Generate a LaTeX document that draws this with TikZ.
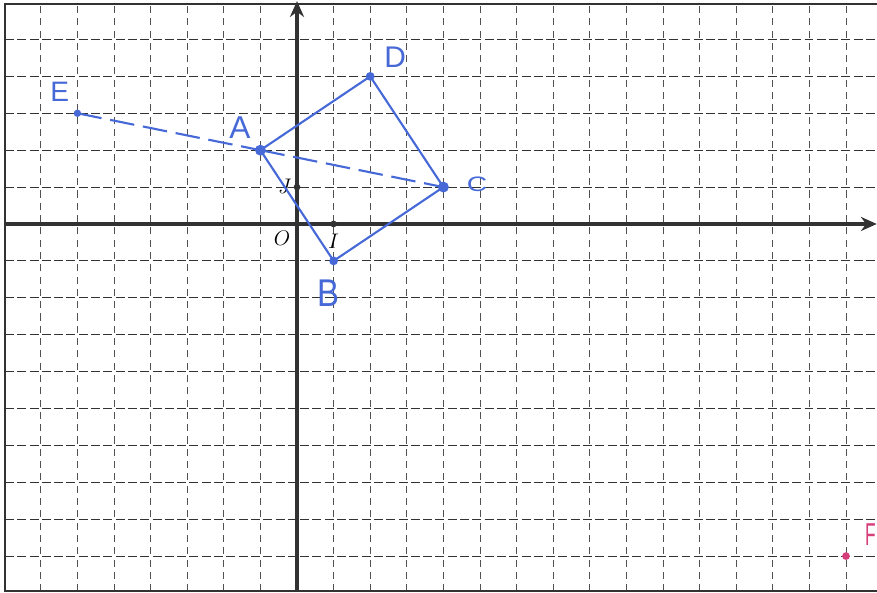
\documentclass[tikz,border=0pt]{standalone}
\usepackage{fontspec}
\newfontfamily\hand{Liberation Sans}
\usetikzlibrary{arrows.meta}
\definecolor{pen}{RGB}{70,105,215}
\definecolor{pink}{RGB}{214,62,122}
\definecolor{ink}{RGB}{50,50,50}
\tikzset{
  hgrid/.style={ink, line width=0.6pt, dash pattern=on 5.1pt off 1.9pt},
  vgrid/.style={ink!85, line width=0.5pt, dash pattern=on 4pt off 3pt},
  frame/.style={ink, line width=0.9pt},
  axis/.style={ink, line width=1.8pt, -{Stealth[length=9pt,width=8pt]}},
  tickdot/.style={circle, fill=ink, inner sep=0pt, minimum size=3.8pt},
  mlbl/.style={font=\fontsize{12.5}{14}\selectfont, text=black, inner sep=0pt},
  penline/.style={pen, line width=1.2pt},
  pendash/.style={pen, line width=1.2pt, dash pattern=on 14pt off 5pt},
  bigdot/.style={circle, fill=pen, inner sep=0pt, minimum size=6.2pt},
  smalldot/.style={circle, fill=pen, inner sep=0pt, minimum size=4.2pt},
  pinkdot/.style={circle, fill=pink, inner sep=0pt, minimum size=4.4pt},
  hlbl/.style={text=pen, inner sep=0pt},
}
\begin{document}
\begin{tikzpicture}[x=0.732cm,y=0.738cm]
\useasboundingbox (-8.115,-10.0) rectangle (15.847,6.07);
\clip (-8.115,-10.0) rectangle (15.847,6.07);
\fill[white] (-8.115,-10.0) rectangle (15.847,6.07);
% grid
\foreach \y in {-9,...,5} \draw[hgrid] (-7.98,\y) -- (16,\y);
\foreach \x in {-7,...,15} \draw[vgrid] (\x,-9.95) -- (\x,5.96);
% frame
\draw[frame] (16.5,5.96) -- (-7.98,5.96) -- (-7.98,-9.95) -- (16.5,-9.95);
% axes
\coordinate (xl) at (-7.98,0);
\coordinate (xr) at (15.84,0);
\coordinate (yb) at (0,-9.95);
\coordinate (yt) at (0,6.04);
\draw[axis] (xl) -- (xr);
\draw[axis] (yb) -- (yt);
\node[tickdot] (I) at (1,0) {};
\node[tickdot] (J) at (0,1) {};
\node[tickdot, minimum size=2.5pt] (O) at (0,0) {};
\node[mlbl] (Olbl) at (-0.41,-0.38) {$O$};
\node[mlbl] (Ilbl) at (1.0,-0.46) {$I$};
\node[mlbl] (Jlbl) at (-0.33,1.03) {$J$};
% points
\coordinate (A) at (-1,2);
\coordinate (B) at (1,-1);
\coordinate (C) at (4,1);
\coordinate (D) at (2,4);
\coordinate (E) at (-6,3);
\coordinate (F) at (15,-9);
\draw[pendash] (E) -- (A);
\draw[pendash] (A) -- (C);
\draw[penline, line join=round] (A) -- (B) -- (C) -- (D) -- cycle;
\node[bigdot] (Adot) at (A) {};
\node[bigdot, minimum size=5pt] (Bdot) at (B) {};
\node[bigdot] (Cdot) at (C) {};
\node[bigdot, minimum size=5pt] (Ddot) at (D) {};
\node[smalldot] (Edot) at (E) {};
\node[pinkdot] (Fdot) at (F) {};
% handwritten labels
\node[hlbl, font=\hand\fontsize{16}{18}\selectfont] (Elbl) at (-6.48,3.58) {E};
\node[hlbl, font=\hand\fontsize{18}{20}\selectfont] (Albl) at (-1.56,2.60) {A};
\node[hlbl, font=\hand\fontsize{17}{19}\selectfont] (Dlbl) at (2.68,4.53) {D};
\node[hlbl, font=\hand\fontsize{14}{16}\selectfont, xscale=1.15, yscale=0.85] (Clbl) at (4.92,1.08) {C};
\node[hlbl, font=\hand\fontsize{22}{24}\selectfont, xscale=0.85] (Blbl) at (0.85,-1.87) {B};
\node[hlbl, text=pink, font=\hand\fontsize{18}{20}\selectfont, xscale=0.55, anchor=west] (Flbl) at (15.52,-8.43) {F};
\end{tikzpicture}
\end{document}
